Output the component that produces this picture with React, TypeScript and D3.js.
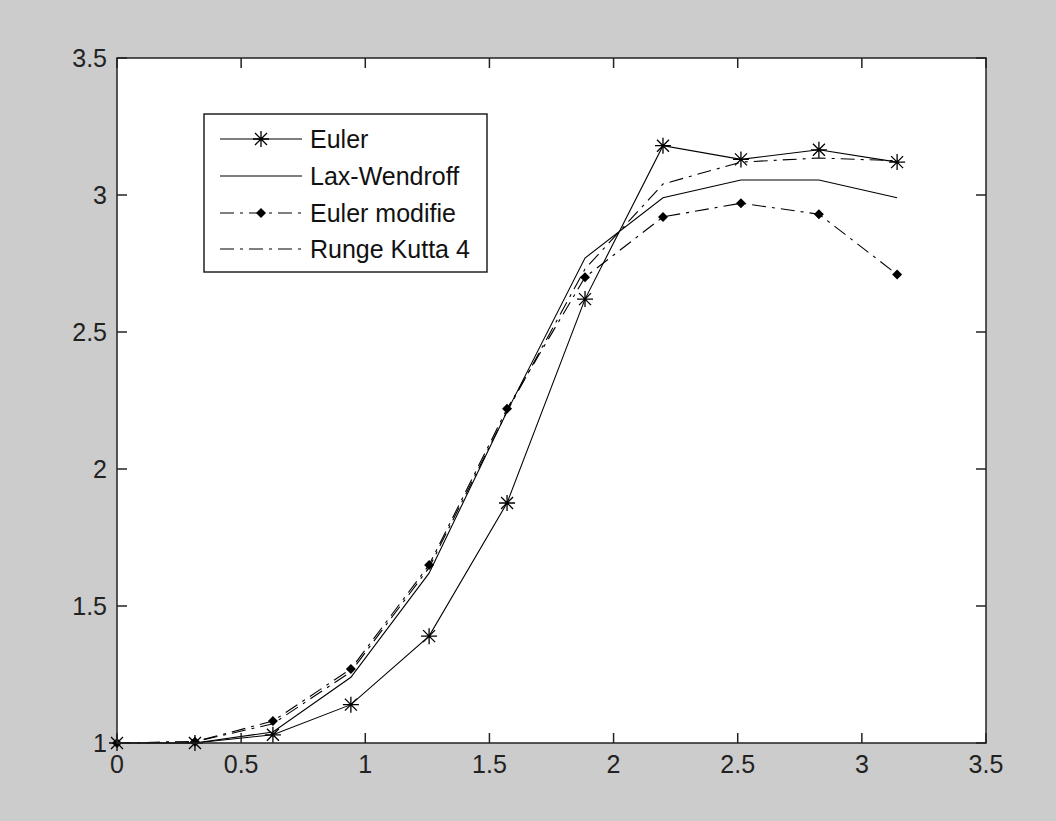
import React, { useEffect, useRef } from 'react';
import * as d3 from 'd3';

// grid points (k * pi / 10)
const X_VALUES = [0, 0.314, 0.628, 0.942, 1.257, 1.571, 1.885, 2.199, 2.513, 2.827, 3.142];

const EULER = [1, 1.0, 1.03, 1.14, 1.39, 1.876, 2.62, 3.18, 3.13, 3.165, 3.12];
const LAX_WENDROFF = [1, 1.0, 1.04, 1.24, 1.62, 2.21, 2.77, 2.99, 3.055, 3.055, 2.99];
const EULER_MODIFIE = [1, 1.005, 1.08, 1.27, 1.65, 2.22, 2.70, 2.92, 2.97, 2.93, 2.71];
const RUNGE_KUTTA = [1, 1.005, 1.07, 1.26, 1.64, 2.21, 2.73, 3.04, 3.12, 3.135, 3.125];

const X_TICKS = [0, 0.5, 1, 1.5, 2, 2.5, 3, 3.5];
const Y_TICKS = [1, 1.5, 2, 2.5, 3, 3.5];

const SERIES = [
  { name: 'Euler', values: EULER, dash: null, marker: 'star' },
  { name: 'Lax-Wendroff', values: LAX_WENDROFF, dash: null, marker: null },
  { name: 'Euler modifie', values: EULER_MODIFIE, dash: '14,6,3,6', marker: 'diamond' },
  { name: 'Runge Kutta 4', values: RUNGE_KUTTA, dash: '14,6,3,6', marker: null },
];

const W = 1056;
const H = 821;
const FONT = '"Liberation Sans", Arial, sans-serif';

function drawMarker(g: any, kind: string | null, cx: number, cy: number) {
  if (kind === 'star') {
    const r = 8;
    const d = 6;
    const p = `M${cx - r},${cy}L${cx + r},${cy}M${cx},${cy - r}L${cx},${cy + r}` +
      `M${cx - d},${cy - d}L${cx + d},${cy + d}M${cx - d},${cy + d}L${cx + d},${cy - d}`;
    g.append('path').attr('d', p).attr('stroke', '#000').attr('stroke-width', 1.3).attr('fill', 'none');
  } else if (kind === 'diamond') {
    const r = 5;
    g.append('path')
      .attr('d', `M${cx},${cy - r}L${cx + r},${cy}L${cx},${cy + r}L${cx - r},${cy}Z`)
      .attr('fill', '#000');
  }
}

export default function App() {
  const ref = useRef<SVGSVGElement>(null);

  useEffect(() => {
    const svg = d3.select(ref.current);
    svg.selectAll('*').remove();

    const left = 117;
    const right = 986;
    const top = 58;
    const bottom = 743;

    const x = d3.scaleLinear().domain([0, 3.5]).range([left, right]);
    const y = d3.scaleLinear().domain([1, 3.5]).range([bottom, top]);

    svg.append('rect').attr('width', W).attr('height', H).attr('fill', '#cccccc');
    svg.append('rect')
      .attr('x', left).attr('y', top)
      .attr('width', right - left).attr('height', bottom - top)
      .attr('fill', '#fff');

    // series
    const line = d3.line<number>()
      .x((_, i) => x(X_VALUES[i]))
      .y((v) => y(v));

    SERIES.forEach((s) => {
      svg.append('path')
        .attr('d', line(s.values))
        .attr('fill', 'none')
        .attr('stroke', '#000')
        .attr('stroke-width', 1.1)
        .attr('stroke-dasharray', s.dash);
      if (s.marker) {
        s.values.forEach((v, i) => drawMarker(svg, s.marker, x(X_VALUES[i]), y(v)));
      }
    });

    // box + ticks (inward on all sides)
    const tickLen = 10;
    const axes = svg.append('g').attr('stroke', '#222').attr('stroke-width', 1.5);
    X_TICKS.forEach((t) => {
      axes.append('line').attr('x1', x(t)).attr('x2', x(t)).attr('y1', bottom).attr('y2', bottom - tickLen);
      axes.append('line').attr('x1', x(t)).attr('x2', x(t)).attr('y1', top).attr('y2', top + tickLen);
    });
    Y_TICKS.forEach((t) => {
      axes.append('line').attr('x1', left).attr('x2', left + tickLen).attr('y1', y(t)).attr('y2', y(t));
      axes.append('line').attr('x1', right).attr('x2', right - tickLen).attr('y1', y(t)).attr('y2', y(t));
    });
    svg.append('rect')
      .attr('x', left).attr('y', top)
      .attr('width', right - left).attr('height', bottom - top)
      .attr('fill', 'none').attr('stroke', '#222').attr('stroke-width', 1.5);

    // tick labels
    X_TICKS.forEach((t) => {
      svg.append('text')
        .attr('x', x(t)).attr('y', bottom + 30)
        .attr('text-anchor', 'middle')
        .attr('font-family', FONT).attr('font-size', 25).attr('fill', '#222')
        .text(String(t));
    });
    Y_TICKS.forEach((t) => {
      svg.append('text')
        .attr('x', left - 10).attr('y', y(t) + 9)
        .attr('text-anchor', 'end')
        .attr('font-family', FONT).attr('font-size', 25).attr('fill', '#222')
        .text(String(t));
    });

    // legend
    const lg = svg.append('g');
    lg.append('rect')
      .attr('x', 204).attr('y', 114).attr('width', 283).attr('height', 158)
      .attr('fill', '#fff').attr('stroke', '#222').attr('stroke-width', 1.5);
    const rowY = [139, 176, 213, 249];
    SERIES.forEach((s, i) => {
      const cy = rowY[i];
      lg.append('line')
        .attr('x1', 220).attr('x2', 302).attr('y1', cy).attr('y2', cy)
        .attr('stroke', '#000').attr('stroke-width', 1.1)
        .attr('stroke-dasharray', s.dash);
      if (s.marker) drawMarker(lg, s.marker, 261, cy);
      lg.append('text')
        .attr('x', 310).attr('y', cy + 9)
        .attr('font-family', FONT).attr('font-size', 25).attr('fill', '#111')
        .text(s.name);
    });
  }, []);

  return (
    <div style={{ position: 'fixed', left: 0, top: 0, width: W, height: H }}>
      <svg ref={ref} width={W} height={H} viewBox={`0 0 ${W} ${H}`} style={{ display: 'block' }} />
    </div>
  );
}
